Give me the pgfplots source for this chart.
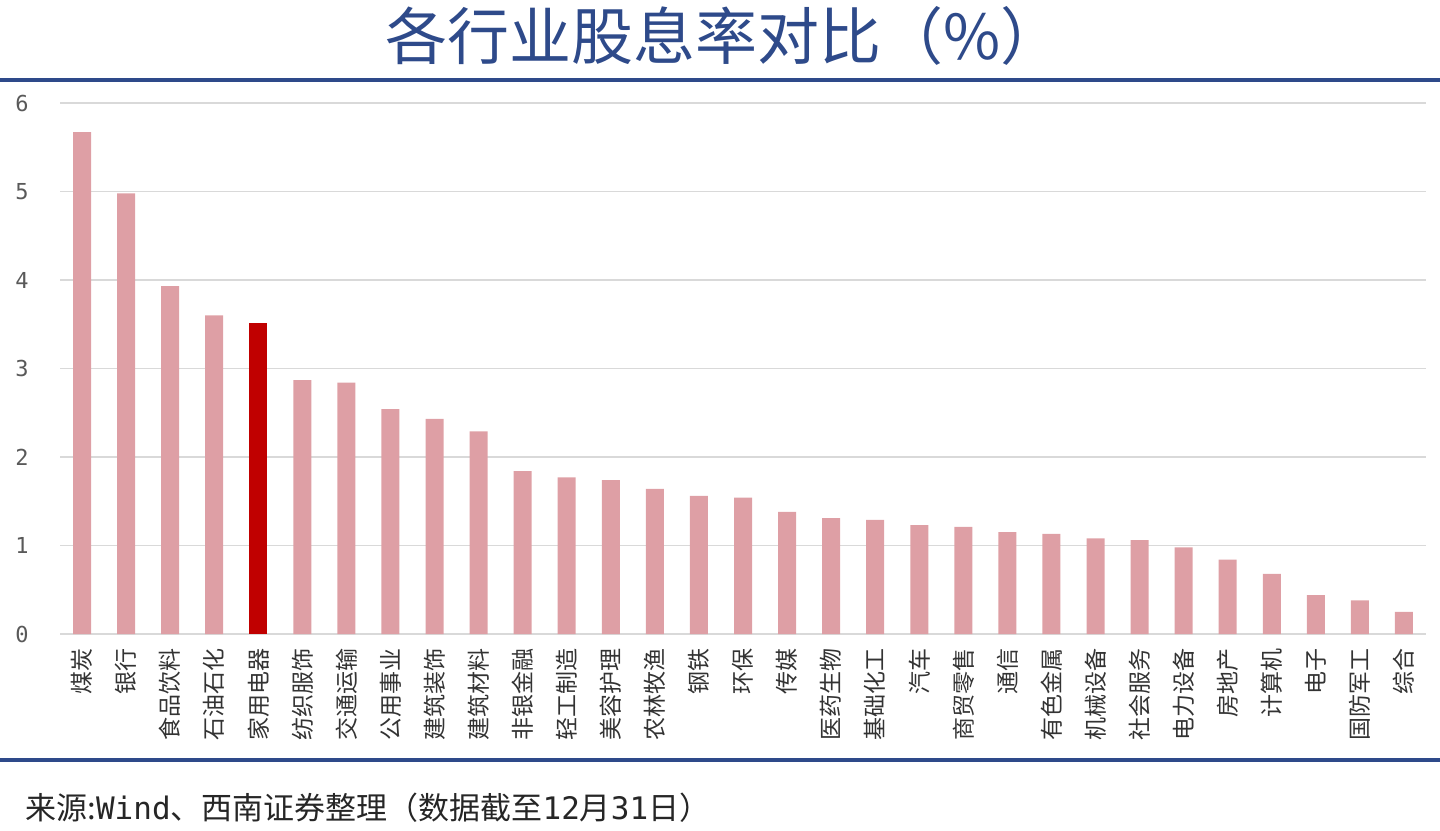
\documentclass[border=0pt]{standalone}
\usepackage{fontspec}
\setmainfont{Noto Sans CJK SC}
\setmonofont{DejaVu Sans Mono}
\usepackage{pgfplots}
\pgfplotsset{compat=1.18}
\definecolor{navy}{HTML}{2E4A8A}
\definecolor{barpink}{HTML}{DE9FA5}
\definecolor{barred}{HTML}{C00000}
\definecolor{gridgray}{HTML}{D9D9D9}
\begin{document}
\begin{tikzpicture}
\path[use as bounding box] (-30pt,-98pt) rectangle (690pt,317pt);
\begin{axis}[
  at={(0pt,0pt)}, anchor=south west,
  scale only axis, width=683pt, height=265.5pt,
  xmin=-0.5, xmax=30.5, ymin=0, ymax=6,
  axis line style={draw=none},
  ytick={0,1,2,3,4,5,6},
  ymajorgrids, grid style={gridgray, line width=0.8pt},
  major tick length=0pt,
  xtick={0,...,30},
  xticklabels={煤炭,银行,食品饮料,石油石化,家用电器,纺织服饰,交通运输,公用事业,建筑装饰,建筑材料,非银金融,轻工制造,美容护理,农林牧渔,钢铁,环保,传媒,医药生物,基础化工,汽车,商贸零售,通信,有色金属,机械设备,社会服务,电力设备,房地产,计算机,电子,国防军工,综合},
  xticklabel style={rotate=90, anchor=east, font=\fontsize{11.5}{12}\selectfont, text=black!80, inner sep=0pt},
  xticklabel shift=7pt,
  yticklabel style={font=\ttfamily\fontsize{11}{12}\selectfont, text=black!65, anchor=center, xshift=-19pt, inner sep=0pt},
  /pgf/number format/assume math mode=true,
  ybar, bar width=9pt,
]
\addplot[fill=barpink, draw=none, bar shift=0pt] coordinates {
(0,5.67) (1,4.98) (2,3.93) (3,3.60) (5,2.87) (6,2.84) (7,2.54) (8,2.43) (9,2.29)
(10,1.84) (11,1.77) (12,1.74) (13,1.64) (14,1.56) (15,1.54) (16,1.38) (17,1.31) (18,1.29) (19,1.23)
(20,1.21) (21,1.15) (22,1.13) (23,1.08) (24,1.06) (25,0.98) (26,0.84) (27,0.68) (28,0.44) (29,0.38) (30,0.25)
};
\addplot[fill=barred, draw=none, bar shift=0pt] coordinates {(4,3.51)};
\end{axis}
\draw[navy, line width=2pt] (-30pt,277pt) -- (690pt,277pt);
\draw[navy, line width=2pt] (-30pt,-63pt) -- (690pt,-63pt);
\node[text=navy, font=\fontsize{31}{33}\selectfont, inner sep=0pt] at (332pt,299pt) {各行业股息率对比（\%）};
\node[anchor=west, font=\fontsize{15.5}{16}\selectfont, text=black!85, inner sep=0pt] at (-17.5pt,-87pt) {来源:{\ttfamily Wind}、西南证券整理（数据截至{\ttfamily 12}月{\ttfamily 31}日）};
\end{tikzpicture}
\end{document}
